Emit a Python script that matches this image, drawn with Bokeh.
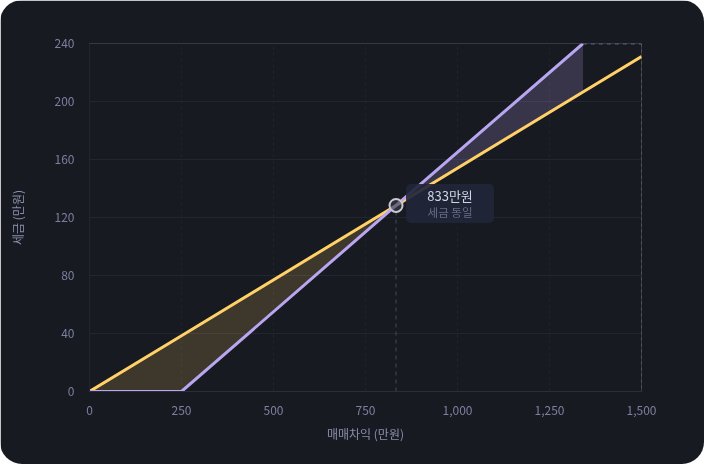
from bokeh.plotting import figure
from bokeh.models import Range1d, FixedTicker, CustomJSTickFormatter
from bokeh.core.properties import value
from bokeh.embed import file_html
from bokeh.resources import INLINE

# data
gain = [0, 250, 833, 1341, 1500]                 # 매매차익 (만원)
tax_flat = [0, 38.5, 128.3, 206.5, 231.0]        # yellow line
tax_deduct = [0, 0, 128.3, 240.0, 240.0]         # purple line (capped at 240 -> dashed)
x_ticks = [0, 250, 500, 750, 1000, 1250, 1500]
y_ticks = [0, 40, 80, 120, 160, 200, 240]
cross_x, cross_y = 833, 128.3
cross_title = "833만원"
cross_sub = "세금 동일"

FONT = "Noto Sans CJK KR"
BG = "#181a21"
YELLOW = "#ffd166"
PURPLE = "#b9a6f0"

W, H = 704, 464
L, R, T, B = 89, 63, 43, 73

p = figure(width=W, height=H, output_backend="svg", toolbar_location=None,
           x_range=Range1d(0, 1500), y_range=Range1d(0, 240),
           min_border_left=L, min_border_right=R, min_border_top=T, min_border_bottom=B)
p.styles = {"position": "fixed", "left": "0px", "top": "0px",
            "border-radius": "22px", "overflow": "hidden"}
p.background_fill_color = BG
p.border_fill_color = BG
p.outline_line_color = None

# grid (edge lines drawn separately, a bit darker, since they render heavier)
p.ygrid.ticker = FixedTicker(ticks=y_ticks[:-1])
p.xgrid.ticker = FixedTicker(ticks=x_ticks[:-1])
p.ygrid.grid_line_color = "#232631"
p.ygrid.grid_line_width = 1
p.xgrid.grid_line_color = "#20232d"
p.xgrid.grid_line_dash = "3 3"
p.line([0, 1500], [y_ticks[-1]] * 2, line_color="#1f222b", line_width=1)
p.line([x_ticks[-1]] * 2, [0, 240], line_color="#1d2029", line_width=1, line_dash="3 3")

# axes
for ax in (p.xaxis[0], p.yaxis[0]):
    ax.major_tick_line_color = None
    ax.minor_tick_line_color = None
    ax.major_label_text_font = FONT
    ax.major_label_text_font_size = "12px"
    ax.major_label_text_color = "#7b80a0"
    ax.axis_label_text_font = FONT
    ax.axis_label_text_font_size = "12px"
    ax.axis_label_text_font_style = "normal"
    ax.axis_label_text_color = "#8a8fae"
p.xaxis.ticker = FixedTicker(ticks=x_ticks)
p.yaxis.ticker = FixedTicker(ticks=y_ticks)
p.xaxis.formatter = CustomJSTickFormatter(code="return tick.toLocaleString('en-US');")
p.xaxis.axis_line_color = "#2a2d3a"
p.yaxis.axis_line_color = "#222530"
p.xaxis.axis_label = "매매차익 (만원)"
p.yaxis.axis_label = "세금 (만원)"
p.xaxis.major_label_standoff = 8
p.xaxis.axis_label_standoff = 7
p.yaxis.major_label_standoff = 9
p.yaxis.axis_label_standoff = 26

# shaded gaps between the two lines
i = gain.index(cross_x)
j = gain.index(1341)
yel_x = gain[:i + 1] + gain[i::-1][:-1]
yel_y = tax_flat[:i + 1] + tax_deduct[i::-1][:-1]
p.patch(yel_x, yel_y, fill_color=YELLOW, fill_alpha=0.17, line_color=None)
pur_x = gain[i:j + 1] + gain[j:i - 1:-1]
pur_y = tax_deduct[i:j + 1] + tax_flat[j:i - 1:-1]
p.patch(pur_x, pur_y, fill_color=PURPLE, fill_alpha=0.2, line_color=None)

# break-even guide
p.line([cross_x, cross_x], [0, cross_y], line_color="#454959", line_width=1, line_dash="4 4")

# lines
p.line(gain, tax_flat, line_color=YELLOW, line_width=3)
p.line(gain[:j + 1], tax_deduct[:j + 1], line_color=PURPLE, line_width=3)
p.line(gain[j:], tax_deduct[j:], line_color="#5e5b80", line_width=2, line_dash="4 4")

# marker
p.scatter([cross_x], [cross_y], size=13, marker="circle", fill_color="#3a3c48",
          fill_alpha=0.6, line_color="#c9c9d2", line_width=2)

# callout box (offset in screen px from the marker)
sx = 1500 / (W - L - R)
sy = 240 / (H - T - B)
bx = cross_x + 54 * sx
by = cross_y + 2 * sy
p.rect([bx], [by], width=88, height=39, width_units="screen", height_units="screen",
       fill_color="#22253a", fill_alpha=0.92, line_color=None, border_radius=5)
p.text([bx], [by + 8 * sy], text=[cross_title], text_font=value(FONT), text_font_size="13px",
       text_color="#d2d4e2", text_align="center", text_baseline="middle")
p.text([bx], [by - 9 * sy], text=[cross_sub], text_font=value(FONT), text_font_size="11.5px",
       text_color="#686d88", text_align="center", text_baseline="middle")

open("out.html", "w").write(file_html(p, INLINE))
